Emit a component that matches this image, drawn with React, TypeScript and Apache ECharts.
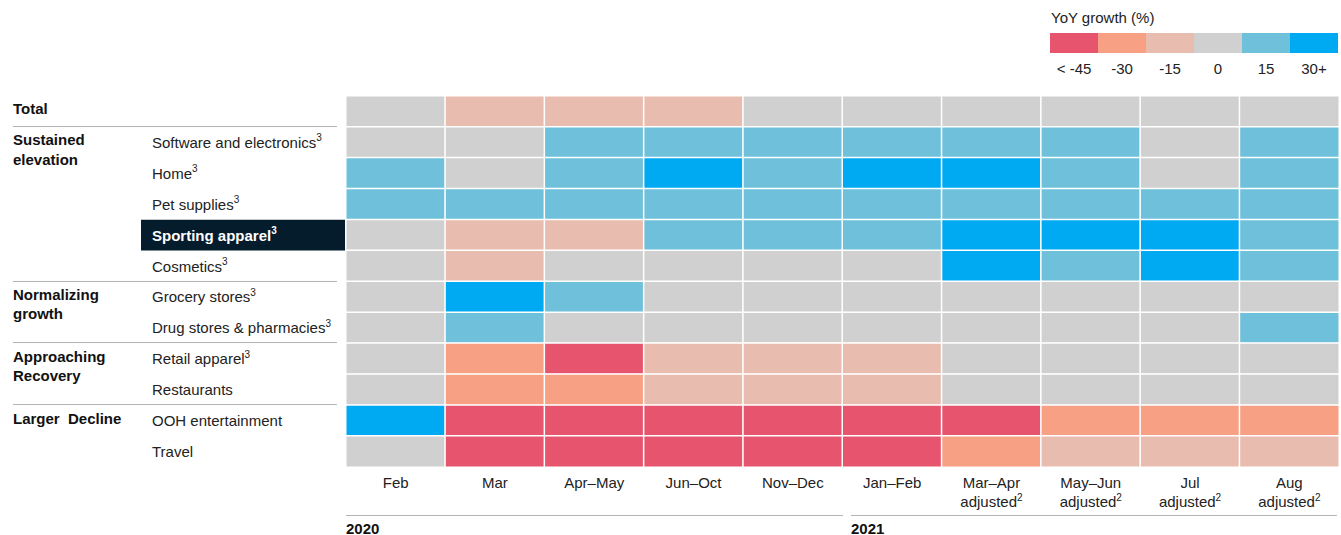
import React, { useEffect, useRef } from "react";
import * as echarts from "echarts";

// Periods (x categories)
const periods = [
  "Feb",
  "Mar",
  "Apr–May",
  "Jun–Oct",
  "Nov–Dec",
  "Jan–Feb",
  "Mar–Apr\nadjusted²",
  "May–Jun\nadjusted²",
  "Jul\nadjusted²",
  "Aug\nadjusted²",
];

// Rows (y categories)
const rowNames = [
  "Total",
  "Software and electronics³",
  "Home³",
  "Pet supplies³",
  "Sporting apparel³",
  "Cosmetics³",
  "Grocery stores³",
  "Drug stores & pharmacies³",
  "Retail apparel³",
  "Restaurants",
  "OOH entertainment",
  "Travel",
];

// YoY growth bucket (%) per row, per period
const total = [0, -15, -15, -15, 0, 0, 0, 0, 0, 0];
const software = [0, 0, 15, 15, 15, 15, 15, 15, 0, 15];
const home = [15, 0, 15, 30, 15, 30, 30, 15, 0, 15];
const pet = [15, 15, 15, 15, 15, 15, 15, 15, 15, 15];
const sporting = [0, -15, -15, 15, 15, 15, 30, 30, 30, 15];
const cosmetics = [0, -15, 0, 0, 0, 0, 30, 15, 30, 15];
const grocery = [0, 30, 15, 0, 0, 0, 0, 0, 0, 0];
const drug = [0, 15, 0, 0, 0, 0, 0, 0, 0, 15];
const retailApparel = [0, -30, -45, -15, -15, -15, 0, 0, 0, 0];
const restaurants = [0, -30, -30, -15, -15, -15, 0, 0, 0, 0];
const ooh = [30, -45, -45, -45, -45, -45, -45, -30, -30, -30];
const travel = [0, -45, -45, -45, -45, -45, -30, -15, -15, -15];

const rowValues = [
  total, software, home, pet, sporting, cosmetics,
  grocery, drug, retailApparel, restaurants, ooh, travel,
];

// Legend buckets
const legendValues = [-45, -30, -15, 0, 15, 30];
const legendLabels = ["< -45", "-30", "-15", "0", "15", "30+"];
const levelColors = ["#E6546E", "#F8A083", "#E8BCAE", "#D0D0D0", "#6EC0DB", "#00AAF2"];

// Row groups
const groupLabels = [["Total"], ["Sustained", "elevation"], ["Normalizing", "growth"], ["Approaching", "Recovery"], ["Larger  Decline"]];
const groupStartRows = [0, 1, 6, 8, 10];
const highlightRow = "Sporting apparel³";

const years = ["2020", "2021"];

const FONT = "'Liberation Sans', Arial, Helvetica, sans-serif";
const FS = 15;

function supify(s: string, main: string, sup: string) {
  const parts = s.split(/([²³])/);
  return parts
    .filter((p) => p !== "")
    .map((p) => {
      if (p === "²") return `{${sup}|2}`;
      if (p === "³") return `{${sup}|3}`;
      return `{${main}|${p}}`;
    })
    .join("");
}

export default function App() {
  const ref = useRef<HTMLDivElement>(null);

  useEffect(() => {
    document.body.style.margin = "0";
    if (!ref.current) return;
    const chart = echarts.init(ref.current, undefined, { renderer: "svg" });

    const gridLeft = 346;
    const gridTop = 96;
    const gridW = 993;
    const gridH = 371;
    const rowH = gridH / rowNames.length;

    const data: [number, number, number][] = [];
    rowValues.forEach((row, yi) => {
      row.forEach((v, xi) => data.push([xi, yi, v]));
    });

    const graphics: any[] = [];

    // highlight box behind Sporting apparel
    const hi = rowNames.indexOf(highlightRow);
    graphics.push({
      type: "rect",
      z: -1,
      shape: { x: 141, y: gridTop + hi * rowH, width: gridLeft - 141, height: rowH },
      style: { fill: "#051C2C" },
    });

    // group labels
    groupLabels.forEach((lines, gi) => {
      const r = groupStartRows[gi];
      const cy = gridTop + (r + 0.5) * rowH - 2.5;
      lines.forEach((t, li) => {
        graphics.push({
          type: "text",
          x: 13,
          y: cy + li * 19.5,
          style: {
            text: t,
            fill: "#111",
            font: `bold ${FS}px ${FONT}`,
            textAlign: "left",
            textVerticalAlign: "middle",
          },
        });
      });
    });

    // separators between groups
    groupStartRows.slice(1).forEach((r) => {
      const y = Math.round(gridTop + r * rowH) - 0.5;
      graphics.push({
        type: "line",
        shape: { x1: 13, y1: y, x2: 337, y2: y },
        style: { stroke: "#B4B4B4", lineWidth: 1 },
      });
    });

    // year lines and labels
    const yearLineY = 515.5;
    graphics.push({
      type: "line",
      shape: { x1: gridLeft, y1: yearLineY, x2: 843, y2: yearLineY },
      style: { stroke: "#B4B4B4", lineWidth: 1 },
    });
    graphics.push({
      type: "line",
      shape: { x1: 851, y1: yearLineY, x2: 1337, y2: yearLineY },
      style: { stroke: "#B4B4B4", lineWidth: 1 },
    });
    [gridLeft, 851].forEach((x, i) => {
      graphics.push({
        type: "text",
        x,
        y: 528,
        style: {
          text: years[i],
          fill: "#111",
          font: `bold ${FS}px ${FONT}`,
          textAlign: "left",
          textVerticalAlign: "middle",
        },
      });
    });

    // legend
    const lgX = 1050;
    const lgW = 48;
    graphics.push({
      type: "text",
      x: 1051,
      y: 17,
      style: {
        text: "YoY growth (%)",
        fill: "#222",
        font: `${FS}px ${FONT}`,
        textAlign: "left",
        textVerticalAlign: "middle",
      },
    });
    legendValues.forEach((v, i) => {
      graphics.push({
        type: "rect",
        shape: { x: lgX + i * lgW, y: 33, width: lgW, height: 20 },
        style: { fill: levelColors[i] },
      });
      graphics.push({
        type: "text",
        x: lgX + i * lgW + lgW / 2,
        y: 68,
        style: {
          text: legendLabels[i],
          fill: "#222",
          font: `${FS}px ${FONT}`,
          textAlign: "center",
          textVerticalAlign: "middle",
        },
      });
    });

    const baseRich = {
      n: { fontSize: FS, lineHeight: 19, color: "#222", fontFamily: FONT },
      sup: { fontSize: 10, lineHeight: 19, color: "#222", fontFamily: FONT, verticalAlign: "top", padding: [0, 0, 0, 0] },
      hl: { fontSize: FS, lineHeight: 19, color: "#FFFFFF", fontWeight: "bold", fontFamily: FONT },
      hlsup: { fontSize: 10, lineHeight: 19, color: "#FFFFFF", fontWeight: "bold", fontFamily: FONT, verticalAlign: "top" },
    };

    chart.setOption({
      animation: false,
      textStyle: { fontFamily: FONT },
      grid: {
        left: gridLeft,
        top: gridTop,
        width: gridW,
        height: gridH,
        containLabel: false,
      },
      xAxis: {
        type: "category",
        data: periods,
        position: "bottom",
        axisLine: { show: false },
        axisTick: { show: false },
        splitArea: { show: false },
        axisLabel: {
          interval: 0,
          margin: 6,
          fontSize: FS,
          lineHeight: 19,
          color: "#222",
          fontFamily: FONT,
          formatter: (v: string) =>
            v
              .split("\n")
              .map((line) => supify(line, "n", "sup"))
              .join("\n"),
          rich: baseRich,
        },
      },
      yAxis: {
        type: "category",
        data: rowNames,
        inverse: true,
        axisLine: { show: false },
        axisTick: { show: false },
        splitArea: { show: false },
        axisLabel: {
          interval: 0,
          align: "left",
          margin: gridLeft - 152,
          fontSize: FS,
          color: "#222",
          fontFamily: FONT,
          formatter: (v: string) => {
            if (v === "Total") return "";
            if (v === highlightRow) return supify(v, "hl", "hlsup");
            return supify(v, "n", "sup");
          },
          rich: baseRich,
        },
      },
      visualMap: {
        type: "piecewise",
        show: false,
        dimension: 2,
        pieces: legendValues.map((v, i) => ({ value: v, color: levelColors[i] })),
      },
      series: [
        {
          type: "heatmap",
          data,
          itemStyle: { borderColor: "#FFFFFF", borderWidth: 1.5 },
          emphasis: { disabled: true },
        },
      ],
      graphic: graphics,
    });

    return () => chart.dispose();
  }, []);

  return <div ref={ref} style={{ width: 1341, height: 535 }} />;
}
